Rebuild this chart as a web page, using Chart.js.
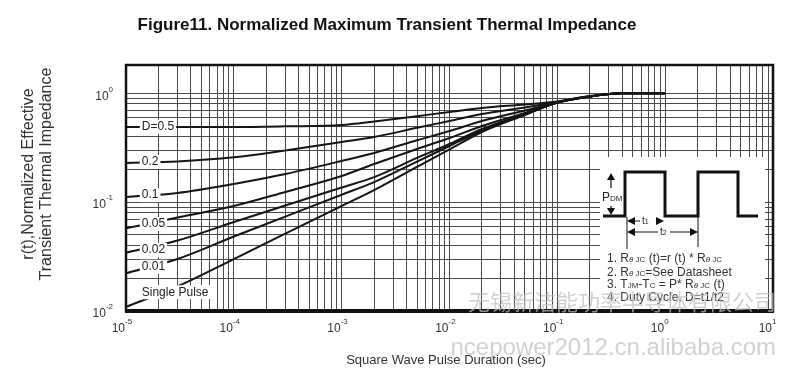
<!DOCTYPE html>
<html>
<head>
<meta charset="utf-8">
<script src="https://cdn.jsdelivr.net/npm/chart.js@4.4.0/dist/chart.umd.min.js"></script>
<style>
html, body { margin: 0; padding: 0; background: #fff; }
#wrap { width: 808px; height: 379px; }
</style>
</head>
<body>
<div id="wrap"><canvas id="chart" width="808" height="379"></canvas></div>
<script>
// pulse duration (sec)
const pulseTimes = [1e-5, 3e-5, 1e-4, 3e-4, 1e-3, 2e-3, 5e-3, 1e-2, 2e-2, 5e-2, 0.1, 0.2, 0.4, 1];

// r(t) por ciclo de trabajo
const rD050 = [0.490, 0.490, 0.490, 0.497, 0.511, 0.551, 0.617, 0.673, 0.733, 0.789, 0.841, 0.944, 1.0, 1.0];
const rD020 = [0.229, 0.236, 0.258, 0.298, 0.357, 0.397, 0.482, 0.557, 0.645, 0.741, 0.832, 0.935, 1.0, 1.0];
const rD010 = [0.1115, 0.1214, 0.1468, 0.1814, 0.239, 0.283, 0.370, 0.450, 0.557, 0.695, 0.823, 0.935, 1.0, 1.0];
const rD005 = [0.0575, 0.0723, 0.0922, 0.124, 0.174, 0.224, 0.308, 0.388, 0.5005, 0.659, 0.823, 0.935, 1.0, 1.0];
const rD002 = [0.0343, 0.0444, 0.0657, 0.0932, 0.1364, 0.170, 0.255, 0.342, 0.470, 0.645, 0.823, 0.935, 1.0, 1.0];
const rD001 = [0.0222, 0.0300, 0.0483, 0.0737, 0.117, 0.153, 0.236, 0.328, 0.455, 0.639, 0.823, 0.935, 1.0, 1.0];
const rSingle = [0.0109, 0.0168, 0.0300, 0.0514, 0.0922, 0.129, 0.211, 0.305, 0.441, 0.632, 0.823, 0.935, 1.0, 1.0];

const seriesNames = ['D=0.5', '0.2', '0.1', '0.05', '0.02', '0.01', 'Single Pulse'];
const seriesValues = [rD050, rD020, rD010, rD005, rD002, rD001, rSingle];
// where each curve label sits (r value at t = 1.4e-5)
const labelR = [0.492, 0.235, 0.116, 0.063, 0.0363, 0.0255, 0.01485];
const labelT = 1.4e-5;

// decades for the tick labels
const xDecades = [-5, -4, -3, -2, -1, 0, 1];
const yDecades = [-2, -1, 0];

const FONT = '"Liberation Sans", Arial, sans-serif';

function gridTicks(decades) {
    const out = [];
    for (let i = 0; i < decades.length - 1; i++) {
        for (let s = 1; s <= 9; s++) {
            out.push({ value: Number((s * Math.pow(10, decades[i])).toPrecision(6)) });
        }
    }
    out.push({ value: Math.pow(10, decades[decades.length - 1]) });
    return out;
}

// draw text made of runs: [texto, tamaño, desplazamiento y, cursiva]
function drawRuns(ctx, runs, x, y) {
    let cx = x;
    runs.forEach(r => {
        ctx.font = (r[3] ? 'italic ' : '') + r[1] + 'px ' + FONT;
        ctx.fillText(r[0], cx, y + (r[2] || 0));
        cx += ctx.measureText(r[0]).width;
    });
}

function arrowHead(ctx, x, y, dir, len, half) {
    // dir: 'l', 'r', 'u', 'd'
    ctx.beginPath();
    if (dir === 'l') { ctx.moveTo(x, y); ctx.lineTo(x + len, y - half); ctx.lineTo(x + len, y + half); }
    if (dir === 'r') { ctx.moveTo(x, y); ctx.lineTo(x - len, y - half); ctx.lineTo(x - len, y + half); }
    if (dir === 'u') { ctx.moveTo(x, y); ctx.lineTo(x - half, y + len); ctx.lineTo(x + half, y + len); }
    if (dir === 'd') { ctx.moveTo(x, y); ctx.lineTo(x - half, y - len); ctx.lineTo(x + half, y - len); }
    ctx.closePath();
    ctx.fill();
}

const decoPlugin = {
    id: 'deco',
    afterDraw(chart) {
        const ctx = chart.ctx;
        const { left, right, top, bottom } = chart.chartArea;
        const xs = chart.scales.x, ys = chart.scales.y;
        ctx.save();

        // curve labels with white background
        ctx.textBaseline = 'middle';
        ctx.textAlign = 'left';
        ctx.font = '12px ' + FONT;
        seriesNames.forEach((name, i) => {
            const px = xs.getPixelForValue(labelT);
            const py = ys.getPixelForValue(labelR[i]);
            const w = ctx.measureText(name).width;
            ctx.fillStyle = '#fff';
            ctx.fillRect(px - 2, py - 7, w + 4, 14);
            ctx.fillStyle = '#222';
            ctx.fillText(name, px, py);
        });

        // inset box
        const ix = 600, iy = 157;
        ctx.fillStyle = '#fff';
        ctx.fillRect(ix, iy, 165, bottom - iy);
        ctx.strokeStyle = '#111';
        ctx.fillStyle = '#111';
        ctx.lineWidth = 3;
        ctx.beginPath();
        const lo = iy + 59, hi = iy + 15;
        ctx.moveTo(ix + 3, lo);
        ctx.lineTo(ix + 25, lo); ctx.lineTo(ix + 25, hi); ctx.lineTo(ix + 65, hi); ctx.lineTo(ix + 65, lo);
        ctx.lineTo(ix + 98, lo); ctx.lineTo(ix + 98, hi); ctx.lineTo(ix + 138, hi); ctx.lineTo(ix + 138, lo);
        ctx.lineTo(ix + 158, lo);
        ctx.stroke();

        // PDM arrow
        ctx.lineWidth = 1.2;
        ctx.beginPath();
        ctx.moveTo(ix + 11, hi + 6); ctx.lineTo(ix + 11, iy + 31);
        ctx.moveTo(ix + 11, iy + 49); ctx.lineTo(ix + 11, lo - 6);
        ctx.stroke();
        arrowHead(ctx, ix + 11, hi + 1, 'u', 7, 4);
        arrowHead(ctx, ix + 11, lo - 1, 'd', 7, 4);
        ctx.fillStyle = '#222';
        ctx.textBaseline = 'alphabetic';
        drawRuns(ctx, [['P', 12], ['DM', 8]], ix + 2, iy + 44);

        // t1, t2 arrows
        ctx.fillStyle = '#111';
        ctx.lineWidth = 1;
        ctx.beginPath();
        ctx.moveTo(ix + 27, lo + 1); ctx.lineTo(ix + 27, iy + 92);
        ctx.moveTo(ix + 98, lo + 1); ctx.lineTo(ix + 98, iy + 90);
        ctx.moveTo(ix + 33, iy + 64); ctx.lineTo(ix + 40, iy + 64);
        ctx.moveTo(ix + 33, iy + 75); ctx.lineTo(ix + 58, iy + 75);
        ctx.moveTo(ix + 70, iy + 75); ctx.lineTo(ix + 91, iy + 75);
        ctx.stroke();
        arrowHead(ctx, ix + 27, iy + 64, 'l', 8, 4);
        arrowHead(ctx, ix + 64, iy + 64, 'r', 8, 4);
        arrowHead(ctx, ix + 27, iy + 75, 'l', 8, 4);
        arrowHead(ctx, ix + 98, iy + 75, 'r', 8, 4);
        ctx.fillStyle = '#222';
        ctx.textBaseline = 'middle';
        drawRuns(ctx, [['t', 10], ['1', 7, 1]], ix + 42, iy + 64);
        drawRuns(ctx, [['t', 10], ['2', 7, 1]], ix + 60, iy + 75);

        // notes
        ctx.fillStyle = '#333';
        ctx.textBaseline = 'middle';
        const nx = ix + 7;
        drawRuns(ctx, [['1. R', 12], ['\u03b8', 8, 1, true], [' JC', 8, 1], [' (t)=r (t) * R', 12], ['\u03b8', 8, 1, true], [' JC', 8, 1]], nx, iy + 102);
        drawRuns(ctx, [['2. R', 12], ['\u03b8', 8, 1, true], [' JC', 8, 1], ['=See Datasheet', 12]], nx, iy + 115.5);
        drawRuns(ctx, [['3. T', 12], ['JM', 8, 1], ['-T', 12], ['C', 8, 1], [' = P* R', 12], ['\u03b8', 8, 1, true], [' JC', 8, 1], [' (t)', 12]], nx, iy + 128);
        drawRuns(ctx, [['4. Duty Cycle, D=t1/t2', 12]], nx, iy + 140.5);

        // frame
        ctx.strokeStyle = '#111';
        ctx.lineWidth = 2.5;
        ctx.strokeRect(left, top, right - left, bottom - top);
        ctx.lineWidth = 4;
        ctx.beginPath();
        ctx.moveTo(left - 1, bottom); ctx.lineTo(right + 1, bottom);
        ctx.stroke();

        // tick labels 10^n
        ctx.fillStyle = '#333';
        ctx.textBaseline = 'middle';
        xDecades.forEach(d => {
            const px = xs.getPixelForValue(Math.pow(10, d));
            ctx.font = '12px ' + FONT;
            ctx.textAlign = 'right';
            ctx.fillText('10', px - 1, bottom + 18);
            ctx.font = '8px ' + FONT;
            ctx.textAlign = 'left';
            ctx.fillText(String(d), px - 1, bottom + 11);
        });
        yDecades.forEach(d => {
            const py = ys.getPixelForValue(Math.pow(10, d));
            ctx.font = '8px ' + FONT;
            const ew = ctx.measureText(String(d)).width;
            ctx.textAlign = 'right';
            ctx.fillText(String(d), left - 13, py - 4);
            ctx.font = '12px ' + FONT;
            ctx.fillText('10', left - 13 - ew, py + 3);
        });

        // axis titles
        ctx.textAlign = 'center';
        ctx.font = '13px ' + FONT;
        ctx.fillStyle = '#333';
        ctx.fillText('Square Wave Pulse Duration (sec)', 446, 360);
        ctx.save();
        ctx.translate(29, 174);
        ctx.rotate(-Math.PI / 2);
        ctx.font = '16px ' + FONT;
        ctx.fillText('r(t),Normalized Effective', 0, 0);
        ctx.fillText('Transient Thermal Impedance', 0, 18);
        ctx.restore();

        // title
        ctx.font = 'bold 17px ' + FONT;
        ctx.fillStyle = '#111';
        ctx.fillText('Figure11. Normalized Maximum Transient Thermal Impedance', 387, 25);

        // watermark
        ctx.textAlign = 'right';
        ctx.fillStyle = 'rgba(190,190,190,0.7)';
        ctx.font = '22px "Noto Sans CJK SC", sans-serif';
        ctx.fillText('无锡新洁能功率半导体有限公司', 776, 302);
        ctx.font = '24px ' + FONT;
        ctx.fillText('ncepower2012.cn.alibaba.com', 776, 348);

        ctx.restore();
    }
};

const datasets = seriesNames.map((name, i) => ({
    label: name,
    data: pulseTimes.map((t, j) => ({ x: t, y: seriesValues[i][j] })),
    borderColor: '#151515',
    borderWidth: 2,
    pointRadius: 0,
    fill: false,
    cubicInterpolationMode: 'monotone'
}));

new Chart(document.getElementById('chart'), {
    type: 'line',
    data: { datasets: datasets },
    options: {
        responsive: false,
        animation: false,
        devicePixelRatio: 1,
        layout: { padding: { top: 65, right: 35, left: 0, bottom: 0 } },
        plugins: { legend: { display: false }, tooltip: { enabled: false } },
        scales: {
            x: {
                type: 'logarithmic',
                min: 1e-5,
                max: 10,
                bounds: 'data',
                afterBuildTicks: s => { s.ticks = gridTicks(xDecades); },
                afterFit: s => { s.height = 68; },
                ticks: { display: false, autoSkip: false },
                grid: { color: '#4a4a4a', lineWidth: 1, drawTicks: false },
                border: { display: false }
            },
            y: {
                type: 'logarithmic',
                min: 0.01,
                max: 1.82,
                bounds: 'data',
                afterBuildTicks: s => { s.ticks = gridTicks(yDecades); },
                afterFit: s => { s.width = 126; },
                ticks: { display: false, autoSkip: false },
                grid: { color: '#4a4a4a', lineWidth: 1, drawTicks: false },
                border: { display: false }
            }
        }
    },
    plugins: [decoPlugin]
});
</script>
</body>
</html>
